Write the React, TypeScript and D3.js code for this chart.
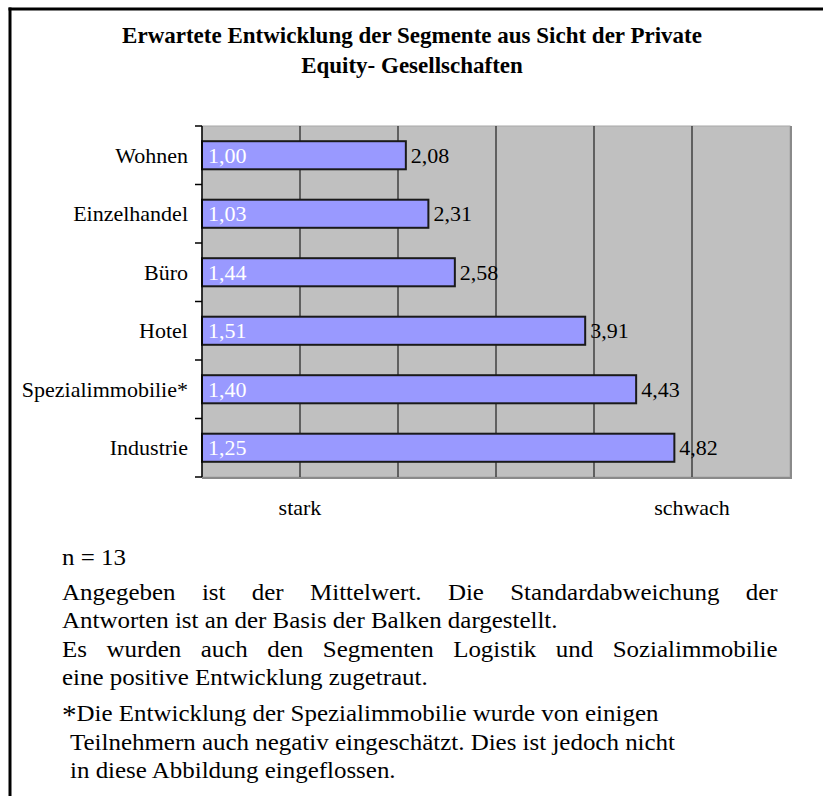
import * as d3 from 'd3'

const categories = ['Wohnen', 'Einzelhandel', 'Büro', 'Hotel', 'Spezialimmobilie*', 'Industrie']
const means = [2.08, 2.31, 2.58, 3.91, 4.43, 4.82]
const stdDevs = [1.0, 1.03, 1.44, 1.51, 1.4, 1.25]
const gridValues = [1, 2, 3, 4, 5]
const scaleLabels = ['stark', 'schwach']
const scaleLabelValues = [1, 5]

const titleLines = [
  'Erwartete Entwicklung der Segmente aus Sicht der Private',
  'Equity- Gesellschaften',
]

const FONT = '"Liberation Serif", "Times New Roman", serif'

const W = 823
const H = 796
const plot = { left: 202, right: 790, top: 126, bottom: 477 }

const de = d3.formatLocale({ decimal: ',', thousands: '.', grouping: [3], currency: ['', '€'] })
const fmt = de.format('.2f')

// measure text so that justified lines can be spread to the block width
let ctx: CanvasRenderingContext2D | null = null
function textWidth(s: string, size: number) {
  if (!ctx) ctx = document.createElement('canvas').getContext('2d')
  if (!ctx) return s.length * size * 0.45
  ctx.font = `${size}px "Liberation Serif"`
  return ctx.measureText(s).width
}

function Justified({ x, y, width, size, children }: { x: number; y: number; width: number; size: number; children: string }) {
  const spaces = children.split(' ').length - 1
  const natural = textWidth(children, size)
  const ws = spaces > 0 ? Math.max(0, (width - natural) / spaces) : 0
  return (
    <text x={x} y={y} style={{ wordSpacing: `${ws}px` }}>
      {children}
    </text>
  )
}

export default function App() {
  const x = d3.scaleLinear().domain([0, 6]).range([plot.left, plot.right])
  const y = d3
    .scaleBand<string>()
    .domain(categories)
    .range([plot.top, plot.bottom])
    .paddingInner(0.52)
    .paddingOuter(0.26)
  const step = y.step()
  const boundaries = d3.range(categories.length + 1).map(i => plot.top + i * step)

  const rows = categories.map((c, i) => ({ cat: c, mean: means[i], sd: stdDevs[i] }))
  const mid = (c: string) => (y(c) ?? 0) + y.bandwidth() / 2 + 7.5

  const noteSize = 24
  const sx = 1.04

  return (
    <svg
      width={W}
      height={H}
      style={{ position: 'absolute', left: 0, top: 0, background: '#fff' }}
      fontFamily={FONT}
    >
      {/* frame */}
      <line x1={8.5} x2={W} y1={9} y2={9} stroke="#000" strokeWidth={3} />
      <line x1={10} x2={10} y1={7.5} y2={H} stroke="#000" strokeWidth={3} />

      {/* title */}
      {titleLines.map((t, i) => (
        <text key={i} x={412} y={43 + i * 30} textAnchor="middle" fontSize={23} fontWeight="bold">
          {t}
        </text>
      ))}

      {/* plot background */}
      <rect
        x={plot.left}
        y={plot.top}
        width={plot.right - plot.left}
        height={plot.bottom - plot.top}
        fill="#c0c0c0"
        stroke="#a8a8a8"
        strokeWidth={1}
      />
      <line x1={plot.right + 1} x2={plot.right + 1} y1={plot.top} y2={plot.bottom + 2} stroke="#8a8a8a" strokeWidth={2} />
      <line x1={plot.left} x2={plot.right + 2} y1={plot.bottom + 1} y2={plot.bottom + 1} stroke="#8a8a8a" strokeWidth={2} />

      {/* mean labels (drawn under the gridlines, as in the original) */}
      {rows.map(r => (
        <text key={'m' + r.cat} x={x(r.mean) + 5} y={mid(r.cat)} fontSize={22} fill="#000">
          {fmt(r.mean)}
        </text>
      ))}

      {/* gridlines */}
      {gridValues.map(v => (
        <line key={v} x1={x(v)} x2={x(v)} y1={plot.top} y2={plot.bottom} stroke="#000" strokeWidth={1} />
      ))}

      {/* bars */}
      {rows.map(r => (
        <rect
          key={'b' + r.cat}
          x={x(0)}
          y={y(r.cat)}
          width={x(r.mean) - x(0)}
          height={y.bandwidth()}
          fill="#9999ff"
          stroke="#1a1a1a"
          strokeWidth={2}
        />
      ))}
      {rows.map(r => (
        <text key={'s' + r.cat} x={x(0) + 6} y={mid(r.cat)} fontSize={22} fill="#fff">
          {fmt(r.sd)}
        </text>
      ))}

      {/* category axis */}
      <line x1={plot.left} x2={plot.left} y1={plot.top} y2={plot.bottom} stroke="#000" strokeWidth={1.5} />
      {boundaries.map((b, i) => (
        <line key={i} x1={plot.left - 7} x2={plot.left} y1={b} y2={b} stroke="#000" strokeWidth={1.5} />
      ))}
      {categories.map(c => (
        <text key={c} x={188} y={mid(c)} textAnchor="end" fontSize={22}>
          {c}
        </text>
      ))}

      {/* scale ends */}
      {scaleLabels.map((l, i) => (
        <text key={l} x={x(scaleLabelValues[i])} y={515} textAnchor="middle" fontSize={22}>
          {l}
        </text>
      ))}

      {/* notes */}
      <g fontSize={noteSize} transform={`translate(62,0) scale(${sx},1)`}>
        <text x={0} y={565}>n = 13</text>
        <Justified x={0} y={600} width={716 / sx} size={noteSize}>
          Angegeben ist der Mittelwert. Die Standardabweichung der
        </Justified>
        <text x={0} y={628}>Antworten ist an der Basis der Balken dargestellt.</text>
        <Justified x={0} y={657} width={716 / sx} size={noteSize}>
          Es wurden auch den Segmenten Logistik und Sozialimmobilie
        </Justified>
        <text x={0} y={685}>eine positive Entwicklung zugetraut.</text>
        <text x={0} y={721}>
          <tspan fontSize={28} dy={3}>*</tspan>
          <tspan dy={-3}>Die Entwicklung der Spezialimmobilie wurde von einigen</tspan>
        </text>
        <text x={8 / sx} y={750}>Teilnehmern auch negativ eingeschätzt. Dies ist jedoch nicht</text>
        <text x={8 / sx} y={778}>in diese Abbildung eingeflossen.</text>
      </g>
    </svg>
  )
}
